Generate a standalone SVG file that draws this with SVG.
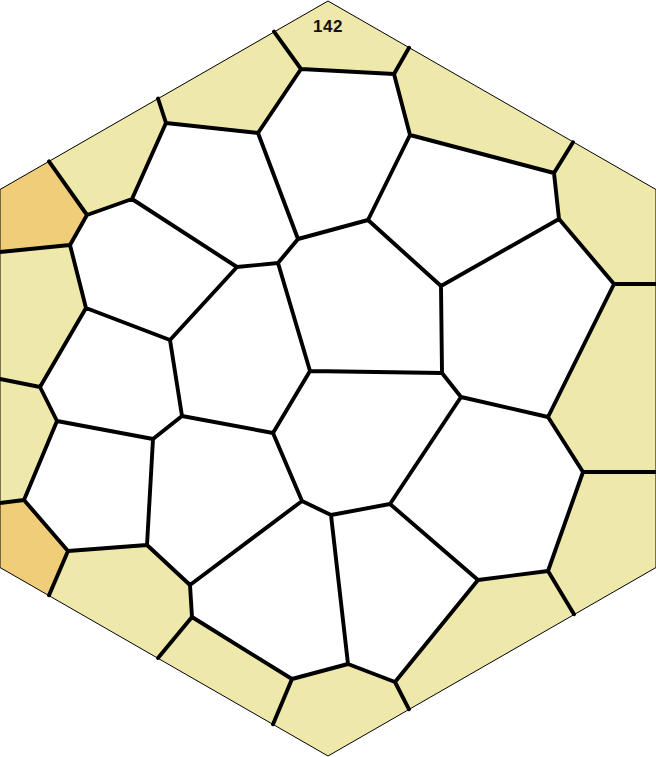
<svg xmlns="http://www.w3.org/2000/svg" width="656" height="757" viewBox="0 0 656 757">
<style>
.y{fill:#EEE8AA;stroke:none}
.o{fill:#F0CD78;stroke:none}
.w{fill:#FFFFFF;stroke:none}
.e{fill:none;stroke:#000;stroke-width:3.9;stroke-linecap:round;stroke-linejoin:round}
.hex{fill:none;stroke:#000;stroke-width:1}
.lbl{font-family:"Liberation Sans",Arial,sans-serif;font-weight:bold;font-size:17px;letter-spacing:0.6px;fill:#111}
</style>
<rect width="656" height="757" fill="#FFFFFF"/>
<g id="cells">
<g id="cell-142"><polygon class="y" points="328,1 409,47.7 394,74 301,69 274,31.6"/><text class="lbl" x="328" y="31.5" text-anchor="middle">142</text></g>
<g id="cell-tr1"><polygon class="y" points="409,47.7 573,142.2 554,173 410,135 394,74"/></g>
<g id="cell-tr2"><polygon class="y" points="573,142.2 656,189.5 656,284 614,284 559,219 554,173"/></g>
<g id="cell-r1"><polygon class="y" points="656,284 656,472 583,472 548,417 614,284"/></g>
<g id="cell-r2"><polygon class="y" points="656,472 656,567.5 574,614.3 548,571 583,472"/></g>
<g id="cell-br1"><polygon class="y" points="574,614.3 409,709.3 395,682 478,580 548,571"/></g>
<g id="cell-b"><polygon class="y" points="409,709.3 328,756 273,724.3 292,679 348,664 395,682"/></g>
<g id="cell-bl1"><polygon class="y" points="273,724.3 158,658 192,617 292,679"/></g>
<g id="cell-bl2"><polygon class="y" points="158,658 49,595.2 68,551 147,545 190,585 192,617"/></g>
<g id="cell-bl3"><polygon class="o" points="49,595.2 0,567.5 0,503 24,500 68,551"/></g>
<g id="cell-l1"><polygon class="y" points="0,503 0,379 40,387 57,421 24,500"/></g>
<g id="cell-l2"><polygon class="y" points="0,379 0,252 70,245 86,308 40,387"/></g>
<g id="cell-tl1"><polygon class="o" points="0,252 0,189.5 49,161.3 87,215 70,245"/></g>
<g id="cell-tl2"><polygon class="y" points="49,161.3 158,98.5 166,123 132,199 87,215"/></g>
<g id="cell-tl3"><polygon class="y" points="158,98.5 274,31.6 301,69 258,133 166,123"/></g>
<g id="cell-i1"><polygon class="w" points="258,133 298,239 278,263 237,267 132,199 166,123"/></g>
<g id="cell-i2"><polygon class="w" points="301,69 394,74 410,135 368,220 298,239 258,133"/></g>
<g id="cell-i3"><polygon class="w" points="410,135 554,173 559,219 441,286 368,220"/></g>
<g id="cell-i4"><polygon class="w" points="132,199 237,267 170,340 86,308 70,245 87,215"/></g>
<g id="cell-i5"><polygon class="w" points="237,267 278,263 310,371 273,433 182,416 170,340"/></g>
<g id="cell-i6"><polygon class="w" points="298,239 368,220 441,286 442,373 310,371 278,263"/></g>
<g id="cell-i7"><polygon class="w" points="441,286 559,219 614,284 548,417 461,397 442,373"/></g>
<g id="cell-i8"><polygon class="w" points="86,308 170,340 182,416 153,439 57,421 40,387"/></g>
<g id="cell-i9"><polygon class="w" points="310,371 442,373 461,397 390,504 331,515 302,501 273,433"/></g>
<g id="cell-i10"><polygon class="w" points="153,439 182,416 273,433 302,501 190,585 147,545"/></g>
<g id="cell-i11"><polygon class="w" points="57,421 153,439 147,545 68,551 24,500"/></g>
<g id="cell-i12"><polygon class="w" points="461,397 548,417 583,472 548,571 478,580 390,504"/></g>
<g id="cell-i13"><polygon class="w" points="302,501 331,515 348,664 292,679 192,617 190,585"/></g>
<g id="cell-i14"><polygon class="w" points="331,515 390,504 478,580 395,682 348,664"/></g>
</g>
<g id="connectors" class="e">
<path d="M274,31.6 L301,69 L394,74 L409,47.7 M301,69 L258,133 L166,123 L158,98.5 M166,123 L132,199 L87,215 L49,161.3 M87,215 L70,245 L0,252 M70,245 L86,308 L40,387 L0,379 M40,387 L57,421 L24,500 L0,503 M57,421 L153,439 L182,416 L170,340 L86,308 M170,340 L237,267 L278,263 L298,239 M237,267 L132,199 M278,263 L310,371 L442,373 M310,371 L273,433 L182,416 M273,433 L302,501 M153,439 L147,545 L68,551 L24,500 M68,551 L49,595.2 M147,545 L190,585 L192,617 L158,658 M192,617 L292,679 L273,724.3 M190,585 L302,501 L331,515 L390,504 M331,515 L348,664 L292,679 M348,664 L395,682 L409,709.3 M395,682 L478,580 L390,504 M478,580 L548,571 L574,614.3 M548,571 L583,472 L656,472 M583,472 L548,417 L461,397 M548,417 L614,284 L656,284 M614,284 L559,219 L554,173 L573,142.2 M554,173 L410,135 L394,74 M410,135 L368,220 L298,239 L258,133 M368,220 L441,286 L559,219 M441,286 L442,373 L461,397 L390,504"/>
</g>
<polygon class="hex" points="328,1 656,189.5 656,567.5 328,756 0,567.5 0,189.5"/>
</svg>
